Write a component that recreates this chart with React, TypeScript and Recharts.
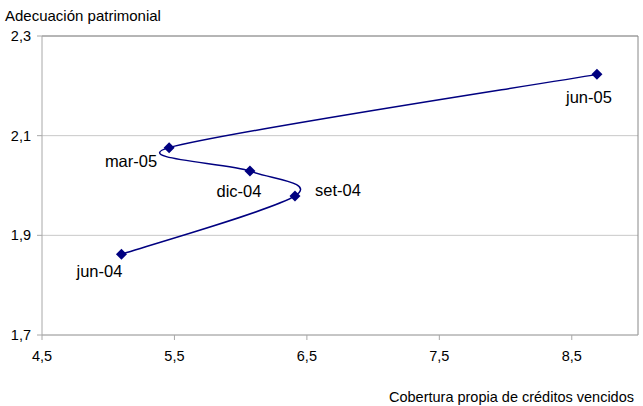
import {
  CartesianGrid,
  LabelList,
  ReferenceLine,
  Scatter,
  ScatterChart,
  XAxis,
  YAxis,
} from "recharts";

const periods = ["jun-04", "set-04", "dic-04", "mar-05", "jun-05"];
const cobertura = [5.1, 6.41, 6.07, 5.46, 8.69];
const adecuacion = [1.862, 1.979, 2.029, 2.076, 2.223];
const xTicks = [4.5, 5.5, 6.5, 7.5, 8.5];
const yTicks = [1.7, 1.9, 2.1, 2.3];

// where each point's label sits, relative to the marker
const labelOffset: Record<string, { dx: number; dy: number; anchor: string }> = {
  "jun-04": { dx: -22, dy: 23, anchor: "middle" },
  "set-04": { dx: 20, dy: 0, anchor: "start" },
  "dic-04": { dx: -11, dy: 26, anchor: "middle" },
  "mar-05": { dx: -12, dy: 19, anchor: "end" },
  "jun-05": { dx: -8, dy: 29, anchor: "middle" },
};

const data = periods.map((p, i) => ({ p, x: cobertura[i], y: adecuacion[i] }));

const navy = "#000080";
const font = "'Liberation Sans', Arial, sans-serif";
const fmt = (v: number) => v.toFixed(1).replace(".", ",");

const dist = (a: number[], b: number[]) => Math.hypot(b[0] - a[0], b[1] - a[1]);

// Excel's smoothed line: 1/6 tangents, handles capped at half the segment
const excelSmooth = (context: any) => {
  let pts: [number, number][] = [];
  return {
    areaStart() {},
    areaEnd() {},
    lineStart() {
      pts = [];
    },
    lineEnd() {
      if (!pts.length) return;
      context.moveTo(pts[0][0], pts[0][1]);
      for (let i = 0; i < pts.length - 1; i++) {
        const p0 = pts[i - 1] || pts[i];
        const p1 = pts[i];
        const p2 = pts[i + 1];
        const p3 = pts[i + 2] || p2;
        const d02 = dist(p0, p2);
        const d12 = dist(p1, p2);
        const d13 = dist(p1, p3);
        const f1 = d02 / 6 < d12 / 2 ? 1 / 6 : d12 / 2 / (d02 || 1);
        const f2 = d13 / 6 < d12 / 2 ? 1 / 6 : d12 / 2 / (d13 || 1);
        context.bezierCurveTo(
          p1[0] + (p2[0] - p0[0]) * f1,
          p1[1] + (p2[1] - p0[1]) * f1,
          p2[0] - (p3[0] - p1[0]) * f2,
          p2[1] - (p3[1] - p1[1]) * f2,
          p2[0],
          p2[1]
        );
      }
    },
    point(x: number, y: number) {
      pts.push([x, y]);
    },
  };
};

const Diamond = (props: any) => {
  const { cx, cy } = props;
  const r = 5.5;
  return (
    <polygon
      points={`${cx},${cy - r} ${cx + r},${cy} ${cx},${cy + r} ${cx - r},${cy}`}
      fill={navy}
    />
  );
};

const PointLabel = (props: any) => {
  const { x, y, width, height, value } = props;
  const cx = x + width / 2;
  const cy = y + height / 2;
  const o = labelOffset[value] || { dx: 0, dy: 0, anchor: "middle" };
  return (
    <text
      x={cx + o.dx}
      y={cy + o.dy}
      textAnchor={o.anchor as any}
      fontFamily={font}
      fontSize={16.5}
      fill="#000"
    >
      {value}
    </text>
  );
};

export default function App() {
  return (
    <div style={{ position: "absolute", left: 0, top: 0, width: 643, height: 406 }}>
      <ScatterChart
        width={643}
        height={406}
        margin={{ top: 36, right: 5, left: 0, bottom: 41 }}
      >
        <CartesianGrid stroke="#c8c8c8" vertical={false} />
        <XAxis
          type="number"
          dataKey="x"
          domain={[4.5, 9]}
          ticks={xTicks}
          tickFormatter={fmt}
          height={30}
          tickSize={5}
          tickMargin={11}
          stroke="#a8a8a8"
          tick={{ fill: "#000", fontSize: 14.5, fontFamily: font }}
          allowDataOverflow
        />
        <YAxis
          type="number"
          dataKey="y"
          domain={[1.7, 2.3]}
          ticks={yTicks}
          tickFormatter={fmt}
          width={42}
          tickSize={5}
          tickMargin={6}
          stroke="#a8a8a8"
          tick={{ fill: "#000", fontSize: 14.5, fontFamily: font }}
          allowDataOverflow
        />
        <ReferenceLine y={2.3} stroke="#888" />
        <ReferenceLine x={9} stroke="#888" />
        <Scatter
          data={data}
          fill={navy}
          line={{ stroke: navy, strokeWidth: 1.5 }}
          lineJointType={excelSmooth as any}
          shape={<Diamond />}
          isAnimationActive={false}
        >
          <LabelList dataKey="p" content={<PointLabel />} />
        </Scatter>
      </ScatterChart>
      <svg
        width={643}
        height={406}
        style={{ position: "absolute", left: 0, top: 0, pointerEvents: "none" }}
      >
        <text x={5} y={21} fontFamily={font} fontSize={15} fill="#000">
          Adecuación patrimonial
        </text>
        <text x={634} y={402} textAnchor="end" fontFamily={font} fontSize={14.5} fill="#000">
          Cobertura propia de créditos vencidos
        </text>
      </svg>
    </div>
  );
}
